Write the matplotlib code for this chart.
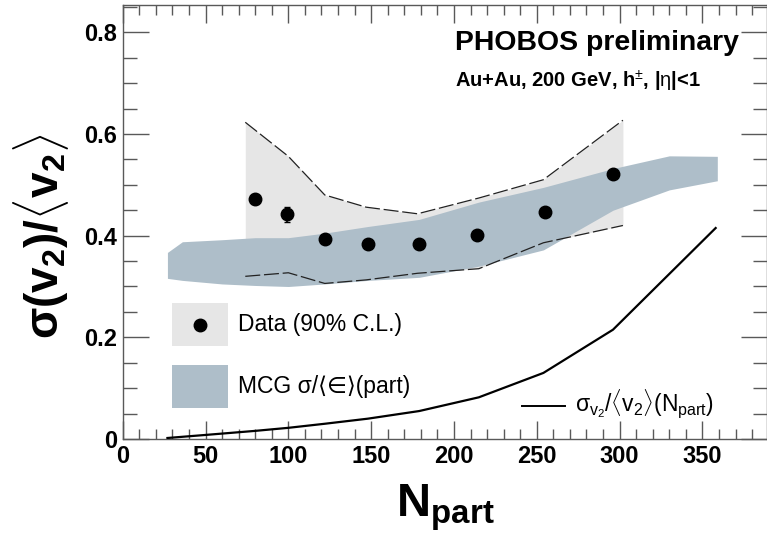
import matplotlib
matplotlib.use("Agg")
import matplotlib.pyplot as plt
from matplotlib.ticker import MultipleLocator
from matplotlib.patches import Rectangle
from matplotlib.lines import Line2D

plt.rcParams['font.family'] = ['Liberation Sans', 'DejaVu Sans']
plt.rcParams['mathtext.fontset'] = 'custom'
plt.rcParams['mathtext.rm'] = 'Liberation Sans'
plt.rcParams['mathtext.it'] = 'Liberation Sans'
plt.rcParams['mathtext.bf'] = 'Liberation Sans:bold'

# PHOBOS data points
npart = [80, 99, 122, 148, 179, 214, 255, 296]
ratio = [0.472, 0.442, 0.393, 0.384, 0.384, 0.402, 0.447, 0.522]
ratio_err = [0.010, 0.015, 0.0, 0.0, 0.0, 0.0, 0.0, 0.0]

# 90% confidence-level band
cl_npart = [74, 100, 122, 147, 178, 215, 254, 302]
cl_upper = [0.623, 0.556, 0.480, 0.456, 0.443, 0.474, 0.510, 0.627]
cl_lower = [0.320, 0.327, 0.306, 0.313, 0.326, 0.335, 0.386, 0.420]

# MC Glauber sigma/<eps> band
mcg_npart = [27, 36, 60, 80, 100, 122, 148, 179, 215, 254, 296, 330, 359]
mcg_lower = [0.316, 0.312, 0.305, 0.302, 0.300, 0.305, 0.312, 0.318, 0.340, 0.372, 0.450, 0.490, 0.508]
mcg_upper = [0.367, 0.388, 0.392, 0.396, 0.396, 0.405, 0.418, 0.432, 0.466, 0.495, 0.532, 0.557, 0.556]

# sigma_v2/<v2> from Npart fluctuations
fl_npart = [27, 50, 80, 100, 122, 148, 179, 215, 254, 296, 358]
fl_ratio = [0.002, 0.008, 0.016, 0.022, 0.030, 0.040, 0.055, 0.082, 0.130, 0.215, 0.415]

grey = '#e6e6e6'
blue = '#aebec9'

fig = plt.figure(figsize=(7.67, 5.38), dpi=100)
ax = fig.add_axes([0.160, 0.184, 0.840, 0.807])

ax.fill_between(cl_npart, cl_lower, cl_upper, color=grey, lw=0, zorder=1)
ax.fill_between(mcg_npart, mcg_lower, mcg_upper, color=blue, lw=0, zorder=2)
for edge in (cl_upper, cl_lower):
    ax.plot(cl_npart, edge, color='#222222', lw=0.9, dashes=(12, 3), zorder=3)
ax.plot(fl_npart, fl_ratio, color='black', lw=1.6, zorder=4)
ax.errorbar(npart, ratio, yerr=ratio_err, fmt='o', color='black', ms=9,
            elinewidth=1.2, capsize=2.5, zorder=5)

ax.set_xlim(0, 389)
ax.set_ylim(0, 0.854)
ax.xaxis.set_major_locator(MultipleLocator(50))
ax.xaxis.set_minor_locator(MultipleLocator(10))
ax.yaxis.set_major_locator(MultipleLocator(0.2))
ax.yaxis.set_minor_locator(MultipleLocator(0.05))
ax.yaxis.set_major_formatter(plt.FuncFormatter(lambda v, p: '0' if abs(v) < 1e-9 else f'{v:.1f}'))

axis_col = '0.35'
for s in ax.spines.values():
    s.set_color(axis_col)
    s.set_linewidth(1.0)
ax.tick_params(which='both', direction='in', top=True, right=True, color=axis_col, width=1.0)
ax.tick_params(axis='x', which='major', length=13, labelsize=17, pad=4)
ax.tick_params(axis='x', which='minor', length=7)
ax.tick_params(axis='y', which='major', length=19, labelsize=17, pad=4)
ax.tick_params(axis='y', which='minor', length=10)
for lab in ax.get_xticklabels() + ax.get_yticklabels():
    lab.set_fontweight('bold')

ax.set_xlabel(r'$\mathbf{N}_{\mathbf{part}}$', fontsize=34, labelpad=11)
ax.set_ylabel(r'$\mathbf{\sigma(v_2)/\langle v_2\rangle}$', fontsize=33)
ax.yaxis.set_label_coords(-0.080, 0.468)

ax.text(0.516, 0.912, 'PHOBOS preliminary', transform=ax.transAxes, fontsize=20.4,
        fontweight='bold', ha='left', va='center')
ax.text(0.516, 0.823, r'Au+Au, 200 GeV, h$^{\pm}$, |$\eta$|<1', transform=ax.transAxes,
        fontsize=14.5, fontweight='bold', ha='left', va='center')

# legend
def px(x, y):
    return fig.transFigure.inverted().transform((x, 538 - y))

for (y0, col) in ((303, grey), (365, blue)):
    x0f, y0f = px(172, y0 + 43)
    fig.add_artist(Rectangle((x0f, y0f), 56 / 767, 43 / 538, transform=fig.transFigure,
                             color=col, lw=0, zorder=5))
xd, yd = px(200, 325)
fig.add_artist(Line2D([xd], [yd], marker='o', color='black', ms=9,
                      transform=fig.transFigure, zorder=6))
tx, ty = px(238, 325)
fig.text(tx, ty, 'Data (90% C.L.)', fontsize=16.5, va='center', ha='left', zorder=6)
tx, ty = px(238, 386)
fig.text(tx, ty, 'MCG σ/⟨∈⟩(part)', fontsize=16.5, va='center', ha='left', zorder=6)
l0 = px(522, 406)
l1 = px(565, 406)
fig.add_artist(Line2D([l0[0], l1[0]], [l0[1], l1[1]], color='black', lw=1.4,
                      transform=fig.transFigure, zorder=6))
tx, ty = px(575, 404)
fig.text(tx, ty, r'$\sigma_{v_2}/\langle v_2\rangle(N_{part})$', fontsize=16.5,
         va='center', ha='left', zorder=6)

fig.savefig('out.png', dpi=100)
